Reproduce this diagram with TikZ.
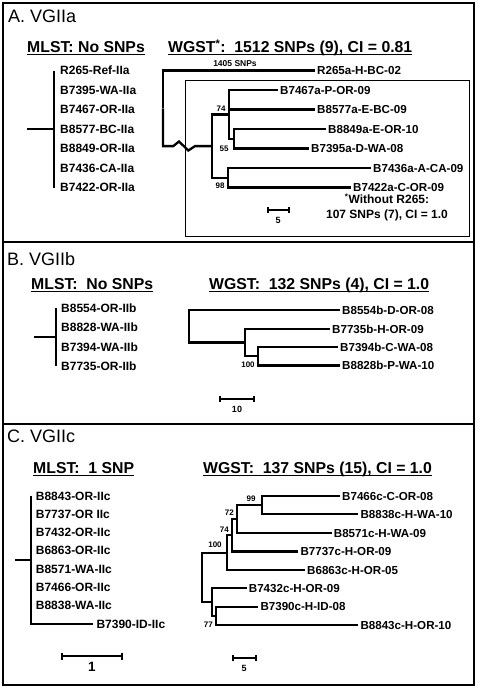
\documentclass[tikz,border=0pt]{standalone}
\usepackage{fontspec}
\setmainfont{Liberation Sans}
\usetikzlibrary{arrows.meta}
\tikzset{
  tree/.style={line width=2.3pt},
  frame/.style={line width=2pt},
  sbar/.style={line width=2pt,arrows={Bar[width=6pt]-Bar[width=6pt]}},
  leaf/.style={anchor=west,inner sep=2pt,text height=8.3pt,text depth=0pt,font=\fontsize{11.6}{13}\selectfont\bfseries},
  mleaf/.style={anchor=west,inner sep=0pt,text height=8.6pt,text depth=0pt,font=\fontsize{12}{14}\selectfont\bfseries},
  boot/.style={inner sep=0pt,font=\fontsize{8}{9}\selectfont\bfseries},
  head/.style={anchor=base west,inner sep=0pt,font=\fontsize{15.8}{18}\selectfont\bfseries},
  ttl/.style={anchor=west,inner sep=0pt,text depth=0pt,font=\fontsize{18}{20}\selectfont},
  note/.style={inner sep=0pt,font=\fontsize{12}{14}\selectfont\bfseries},
}
\newcommand{\ulhead}[1]{\draw[line width=1.1pt] ([yshift=-2pt]#1.base west) -- ([yshift=-2pt]#1.base east);}
\begin{document}
\begin{tikzpicture}[x=1pt,y=-1pt,line join=miter]
  \useasboundingbox (0,0) rectangle (478,688);
  \draw[frame] (3,3) rectangle (473.5,685);
  \draw[frame] (3,242) -- (473.5,242);
  \draw[frame] (3,424) -- (473.5,424);
  % A. VGIIa
  \node[ttl] (ta) at (8,16) {A. VGIIa};
  \node[head] (ha1) at (27,52.7) {MLST: No SNPs};
  \node[head] (ha2) at (168,52.7) {WGST\textsuperscript{*}:~~1512 SNPs (9), CI = 0.81};
  \ulhead{ha1} \ulhead{ha2}
  \foreach \lab [count=\i] in {R265-Ref-IIa,B7395-WA-IIa,B7467-OR-IIa,B8577-BC-IIa,B8849-OR-IIa,B7436-CA-IIa,B7422-OR-IIa} {
    \node[mleaf] (ma\i) at (60,{70.5+19.5*(\i-1)}) {\lab};
  }
  \coordinate (mar) at (54,129);
  \draw[tree] (mar |- ma1.west) -- (mar |- ma7.west);
  \draw[tree] (mar) -- ++(-27,0);
  \draw[line width=.8pt] (185.7,80) rectangle (469.5,236.5);
  \node[leaf] (rr) at (315,70.5) {R265a-H-BC-02};
  \node[leaf] (p67) at (278,90) {B7467a-P-OR-09};
  \node[leaf] (e77) at (315,109.5) {B8577a-E-BC-09};
  \node[leaf] (e49) at (326,129) {B8849a-E-OR-10};
  \node[leaf] (d95) at (309,148.5) {B7395a-D-WA-08};
  \node[leaf] (a36) at (371,168) {B7436a-A-CA-09};
  \node[leaf] (c22) at (351,187.5) {B7422a-C-OR-09};
  \coordinate (a55) at (234,138.75);
  \coordinate (a74) at (229,114.4);
  \coordinate (a98) at (228.3,177.75);
  \coordinate (ain) at (212,146.1);
  \coordinate (aroot) at (163,108.3);
  \draw[tree] (aroot) |- (rr.west);
  \draw[tree] (aroot) |- ([xshift=-38.7pt]ain) -- ++(5.7,-4.6) -- ++(9.3,9) -- ++(6.7,-4.4) -- (ain);
  \draw[tree] (ain) |- (a74);
  \draw[tree] (ain) |- (a98);
  \draw[tree] (a74) |- (p67.west);
  \draw[tree] (a74) |- (e77.west);
  \draw[tree] (a74) |- (a55);
  \draw[tree] (a55) |- (e49.west);
  \draw[tree] (a55) |- (d95.west);
  \draw[tree] (a98) |- (a36.west);
  \draw[tree] (a98) |- (c22.west);
  \node[boot,font=\fontsize{8.5}{9}\selectfont\bfseries] (snp) at (235,64) {1405 SNPs};
  \node[boot] (b74) at (221,108.5) {74};
  \node[boot] (b55) at (224,148.5) {55};
  \node[boot] (b98) at (220,186) {98};
  \node[note] (wo1) at (387,199) {\textsuperscript{*}Without R265:};
  \node[note] (wo2) at (387,215) {107 SNPs (7), CI = 1.0};
  \coordinate (sa) at (266.7,210);
  \draw[sbar] (sa) -- ++(23.3,0);
  \node[boot,font=\fontsize{9}{10}\selectfont\bfseries] (sal) at (278,220) {5};
  % B. VGIIb
  \node[ttl] (tb) at (7,258.7) {B. VGIIb};
  \node[head] (hb1) at (31,289.3) {MLST:~~No SNPs};
  \node[head] (hb2) at (209,289.3) {WGST:~~132 SNPs (4), CI = 1.0};
  \ulhead{hb1} \ulhead{hb2}
  \foreach \lab [count=\i] in {B8554-OR-IIb,B8828-WA-IIb,B7394-WA-IIb,B7735-OR-IIb} {
    \node[mleaf] (mb\i) at (61,{308.3+19.3*(\i-1)}) {\lab};
  }
  \coordinate (mbr) at (56,337.3);
  \draw[tree] (mbr |- mb1.west) -- (mbr |- mb4.west);
  \draw[tree] (mbr) -- ++(-22,0);
  \node[leaf] (d54) at (340,310) {B8554b-D-OR-08};
  \node[leaf] (h35) at (330,329) {B7735b-H-OR-09};
  \node[leaf] (c94) at (338,347) {B7394b-C-WA-08};
  \node[leaf] (p28) at (340,365.5) {B8828b-P-WA-10};
  \coordinate (b100) at (258.3,356.25);
  \coordinate (bmid) at (245,342.6);
  \coordinate (broot) at (189.3,326.3);
  \draw[tree] (broot) |- (d54.west);
  \draw[tree] (broot) |- (bmid);
  \draw[tree] (bmid) |- (h35.west);
  \draw[tree] (bmid) |- (b100);
  \draw[tree] (b100) |- (c94.west);
  \draw[tree] (b100) |- (p28.west);
  \node[boot] (bb100) at (248,364.5) {100};
  \coordinate (sb) at (219,399);
  \draw[sbar] (sb) -- ++(36,0);
  \node[boot,font=\fontsize{9}{10}\selectfont\bfseries] (sbl) at (237,409) {10};
  % C. VGIIc
  \node[ttl] (tc) at (7,436.3) {C. VGIIc};
  \node[head] (hc1) at (33,473.3) {MLST:~~1 SNP};
  \node[head] (hc2) at (203,473.3) {WGST:~~137 SNPs (15), CI = 1.0};
  \ulhead{hc1} \ulhead{hc2}
  \foreach \lab [count=\i] in {B8843-OR-IIc,B7737-OR IIc,B7432-OR-IIc,B6863-OR-IIc,B8571-WA-IIc,B7466-OR-IIc,B8838-WA-IIc} {
    \node[mleaf] (mc\i) at (35.7,{495.7+18.33*(\i-1)}) {\lab};
  }
  \node[mleaf,inner sep=3pt] (mc8) at (93.3,624) {B7390-ID-IIc};
  \coordinate (mcr) at (31,560);
  \draw[tree] (mcr |- mc1.west) |- (mc8.west);
  \draw[tree] (mcr) -- ++(-16,0);
  \coordinate (sm) at (61,656);
  \draw[sbar,arrows={Bar[width=7pt]-Bar[width=7pt]}] (sm) -- ++(61.7,0);
  \node[boot,font=\fontsize{13.5}{15}\selectfont\bfseries] (sml) at (92,667) {1};
  \node[leaf] (c66) at (340,496) {B7466c-C-OR-08};
  \node[leaf] (h38) at (358.3,514.3) {B8838c-H-WA-10};
  \node[leaf] (h71) at (331.7,533) {B8571c-H-WA-09};
  \node[leaf] (h37) at (298.3,551.5) {B7737c-H-OR-09};
  \node[leaf] (h63) at (305,570) {B6863c-H-OR-05};
  \node[leaf] (h32) at (246.7,588.3) {B7432c-H-OR-09};
  \node[leaf] (h90) at (258.3,606.7) {B7390c-H-ID-08};
  \node[leaf] (h43) at (358.3,625) {B8843c-H-OR-10};
  \coordinate (c99) at (261.7,505.15);
  \coordinate (c72) at (237.3,519.1);
  \coordinate (c74) at (231.7,535.3);
  \coordinate (c100) at (226.7,552.65);
  \coordinate (c77) at (215.7,615.85);
  \coordinate (clow) at (211.7,602.1);
  \coordinate (croot) at (201.7,577.4);
  \draw[tree] (croot) |- (c100);
  \draw[tree] (croot) |- (clow);
  \draw[tree] (c100) |- (c74);
  \draw[tree] (c100) |- (h63.west);
  \draw[tree] (c74) |- (c72);
  \draw[tree] (c74) |- (h37.west);
  \draw[tree] (c72) |- (c99);
  \draw[tree] (c72) |- (h71.west);
  \draw[tree] (c99) |- (c66.west);
  \draw[tree] (c99) |- (h38.west);
  \draw[tree] (clow) |- (h32.west);
  \draw[tree] (clow) |- (c77);
  \draw[tree] (c77) |- (h90.west);
  \draw[tree] (c77) |- (h43.west);
  \node[boot] (bc99) at (251,499) {99};
  \node[boot] (bc72) at (229.3,512.7) {72};
  \node[boot] (bc74) at (224.3,529.3) {74};
  \node[boot] (bc100) at (215,545) {100};
  \node[boot] (bc77) at (208.3,625) {77};
  \coordinate (sc) at (231.7,658.3);
  \draw[sbar] (sc) -- ++(25.6,0);
  \node[boot,font=\fontsize{9}{10}\selectfont\bfseries] (scl) at (244,668.5) {5};
\end{tikzpicture}
\end{document}
